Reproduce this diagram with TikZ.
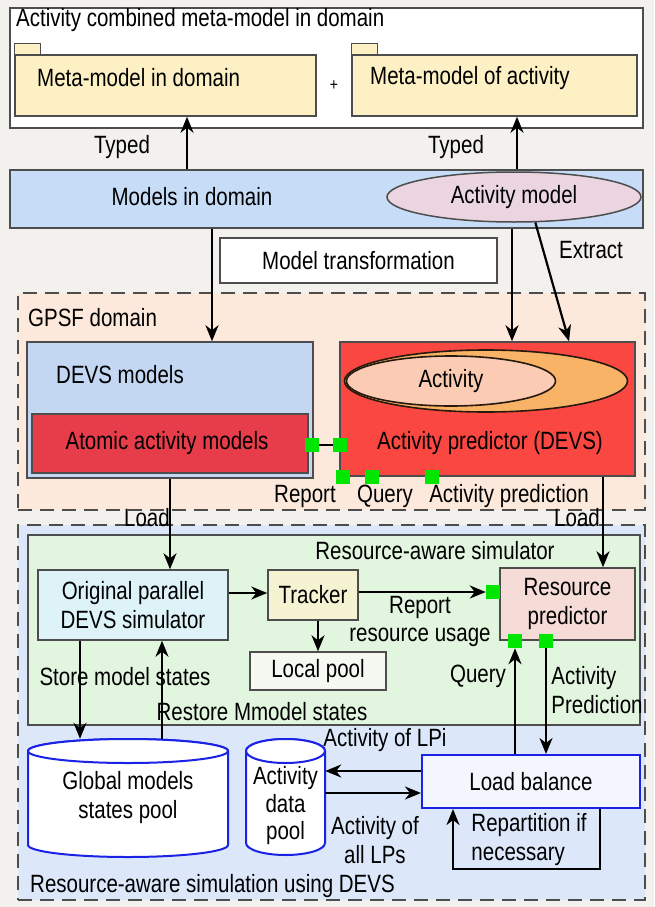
\documentclass[tikz,border=0pt]{standalone}
\usepackage{fontspec}
\setmainfont{Liberation Sans}[FakeStretch=0.82]
\usepackage{tikz}
\usetikzlibrary{shapes.geometric,arrows.meta}
\definecolor{bgpaper}{HTML}{F3F1ED}
\definecolor{pkgfill}{HTML}{FDF0C4}
\definecolor{bandblue}{HTML}{C7DCF7}
\definecolor{actpink}{HTML}{EBD5E1}
\definecolor{gpsffill}{HTML}{FDE9DC}
\definecolor{devsblue}{HTML}{C3D6F2}
\definecolor{atomred}{HTML}{E73D4A}
\definecolor{predred}{HTML}{FB4741}
\definecolor{actorange}{HTML}{F8B366}
\definecolor{actsalmon}{HTML}{FCCBB3}
\definecolor{portgreen}{HTML}{00E600}
\definecolor{rasfill}{HTML}{DCE8FA}
\definecolor{simgreen}{HTML}{E2F5DF}
\definecolor{simcyan}{HTML}{DDF3F7}
\definecolor{trackyellow}{HTML}{F6F3D3}
\definecolor{respink}{HTML}{F6DCD6}
\definecolor{localfill}{HTML}{F5F9F2}
\definecolor{lbfill}{HTML}{F4F6FD}
\definecolor{poolblue}{HTML}{1A22E6}
\definecolor{edgegray}{HTML}{4D4D4D}

\begin{document}
\begin{tikzpicture}[x=1pt,y=-1pt,font=\fontsize{25}{29}\selectfont,
   box/.style={draw=edgegray,line width=1.5pt,rectangle,inner sep=0pt,align=center},
   txt/.style={inner sep=0pt,align=center},
   arr/.style={line width=2.2pt,-{Stealth[length=16pt,width=13pt,inset=5pt]}},
   port/.style={fill=portgreen,minimum size=14pt,inner sep=0pt},
   region/.style={draw=edgegray,line width=2.5pt,dash pattern=on 14pt off 8pt,rectangle,inner sep=0pt},
   pool/.style={draw=poolblue,line width=2pt,fill=white}]
\fill[bgpaper] (0,0) rectangle (654,907);
\useasboundingbox (0,0) rectangle (654,907);

\node[box,fill=white,minimum width=633,minimum height=120] (combined) at (326.5,68) {};
\node[txt,anchor=west] (combinedlbl) at (16,20) {Activity combined meta-model in domain};
\node[box,fill=pkgfill,minimum width=301,minimum height=61] (mmdom) at (165.5,85.5) {};
\filldraw[fill=pkgfill,draw=edgegray,line width=1.4pt] (mmdom.north west) rectangle ++(26,-11);
\node[txt,anchor=west] (mmdomlbl) at (37,78) {Meta-model in domain};
\node[box,fill=pkgfill,minimum width=285,minimum height=61] (mmact) at (494.5,85.5) {};
\filldraw[fill=pkgfill,draw=edgegray,line width=1.4pt] (mmact.north west) rectangle ++(26,-11);
\node[txt,anchor=west] (mmactlbl) at (370,78) {Meta-model of activity};
\node[txt,font=\fontsize{17}{18}\selectfont] (plus) at (334,86) {+};

\node[box,fill=bandblue,minimum width=633,minimum height=58] (band) at (326.5,199) {};
\node[txt] (models) at (192,197) {Models in domain};
\node[ellipse,draw=edgegray,line width=1.5pt,fill=actpink,minimum width=254,minimum height=50,inner sep=0pt] (actmodel) at (514,197) {Activity model};
\node[txt] (typedl) at (122,147) {Typed};
\node[txt] (typedr) at (456,147) {Typed};
\draw[arr] (band.north -| 187,0) -- (mmdom.south -| 187,0);
\draw[arr] (band.north -| 517,0) -- (mmact.south -| 517,0);

\node[box,fill=white,minimum width=277,minimum height=45] (transf) at (358.5,260.5) {Model transformation};
\node[txt] (extract) at (591,250) {Extract};

\node[region,fill=gpsffill,minimum width=627,minimum height=217] (gpsf) at (331.5,401.5) {};
\node[txt,anchor=west] (gpsflbl) at (28,318) {GPSF domain};
\node[box,fill=devsblue,minimum width=286,minimum height=136] (devs) at (170,410) {};
\node[txt,anchor=west] (devslbl) at (56,375) {DEVS models};
\node[box,fill=atomred,minimum width=276,minimum height=59] (atomic) at (170,443.5) {};
\node[txt] (atomiclbl) at (167,443) {Atomic activity models};
\node[box,fill=predred,minimum width=295,minimum height=134] (pred) at (487.5,409) {};
\node[ellipse,draw=black!80!brown,line width=1.6pt,fill=actorange,minimum width=283,minimum height=62,inner sep=0pt] (actout) at (486,381) {};
\node[ellipse,draw=black!80!brown,line width=1.6pt,fill=actsalmon,minimum width=209,minimum height=50,inner sep=0pt] (actin) at (451,381) {Activity};
\node[txt] (predlbl) at (490,443) {Activity predictor (DEVS)};

\draw[arr] (band.south -| 212,0) -- (devs.north -| 212,0);
\draw[arr] (band.south -| 512,0) -- (pred.north -| 512,0);
\draw[arr] (actmodel.-50) -- (pred.north -| 569,0);

\draw[line width=2.5pt] (312,445) -- (340,445);
\node[port] (rp1) at (312,445) {};
\node[port] (rp2) at (340,445) {};
\node[port] (qp1) at (343,477) {};
\node[port] (qp2) at (372,477) {};
\node[port] (qp3) at (432,477) {};
\node[txt] (reportlbl) at (305,496) {Report};
\node[txt] (querylbl) at (385,496) {Query};
\node[txt] (apredlbl) at (509,496) {Activity prediction};

\node[region,fill=rasfill,minimum width=627,minimum height=375] (rasdevs) at (331.5,712.5) {};
\node[txt,anchor=west] (rasdevslbl) at (30,886) {Resource-aware simulation using DEVS};
\node[txt] (loadl) at (147,518) {Load};
\node[txt] (loadr) at (577,518) {Load};
\node[box,fill=simgreen,minimum width=612,minimum height=190] (rasim) at (334,630) {};
\node[txt] (rasimlbl) at (435,551) {Resource-aware simulator};

\node[box,fill=simcyan,minimum width=190,minimum height=70] (sim) at (133,605) {Original parallel\\DEVS simulator};
\node[box,fill=trackyellow,minimum width=90,minimum height=50] (tracker) at (313,595) {Tracker};
\node[box,fill=respink,minimum width=135,minimum height=72] (respred) at (567.5,604) {Resource\\predictor};
\node[box,fill=localfill,minimum width=136,minimum height=38] (localpool) at (318,671) {Local pool};
\node[port] (portr) at (493,592) {};
\node[port] (portq) at (515,641) {};
\node[port] (porta) at (546,641) {};

\draw[arr] (devs.south -| 170,0) -- (sim.north -| 170,0);
\draw[arr] (pred.south -| 603,0) -- (respred.north -| 603,0);
\draw[arr] (sim.east |- 0,593) -- (tracker.west |- 0,593);
\draw[arr] (tracker.east |- portr) -- (portr.west);
\draw[arr] (tracker.south -| localpool.north) -- (localpool.north);
\node[txt] (reportr) at (420,607) {Report};
\node[txt] (usage) at (420,637) {resource usage};
\node[txt] (store) at (125,677) {Store model states};
\node[txt] (restore) at (262,712) {Restore Mmodel states};

\filldraw[pool] (28,751) -- (28,845) arc[start angle=180,end angle=0,x radius=100,y radius=12] -- (228,751) arc[start angle=0,end angle=-180,x radius=100,y radius=12] -- cycle;
\draw[pool] (128,751) ellipse[x radius=100,y radius=12];
\node[txt,minimum width=200,minimum height=118] (gpool) at (128,798) {Global models\\states pool};
\filldraw[pool] (246,751) -- (246,843) arc[start angle=180,end angle=0,x radius=39.5,y radius=12] -- (325,751) arc[start angle=0,end angle=-180,x radius=39.5,y radius=12] -- cycle;
\draw[pool] (285.5,751) ellipse[x radius=39.5,y radius=12];
\node[txt,minimum width=79,minimum height=116,font=\fontsize{25}{27.5}\selectfont] (apool) at (285.5,806) {Activity\\data\\pool};

\draw[arr] (sim.south -| 80,0) -- (gpool.north -| 80,0);
\draw[arr] (gpool.north -| 162,0) -- (sim.south -| 162,0);

\node[box,draw=poolblue,line width=2pt,fill=lbfill,minimum width=218,minimum height=53] (lb) at (531,781.5) {Load balance};
\draw[arr] (lb.north -| portq) -- (portq.south);
\draw[arr] (porta.south) -- (lb.north -| porta);
\node[txt] (querylb) at (478,676) {Query};
\node[txt,align=left] (apredlb) at (597,690) {Activity\\Prediction};
\draw[arr] (lb.west |- 0,771) -- (apool.east |- 0,771);
\draw[arr] (apool.east |- 0,793) -- (lb.west |- 0,793);
\node[txt] (lpi) at (385,740) {Activity of LPi};
\node[txt] (alllps) at (375,840) {Activity of\\all LPs};
\draw[arr] (lb.south -| 600,0) -- ++(0,60) -| (lb.south -| 453,0);
\node[txt,align=left] (repart) at (529,840) {Repartition if\\necessary};
\end{tikzpicture}
\end{document}
